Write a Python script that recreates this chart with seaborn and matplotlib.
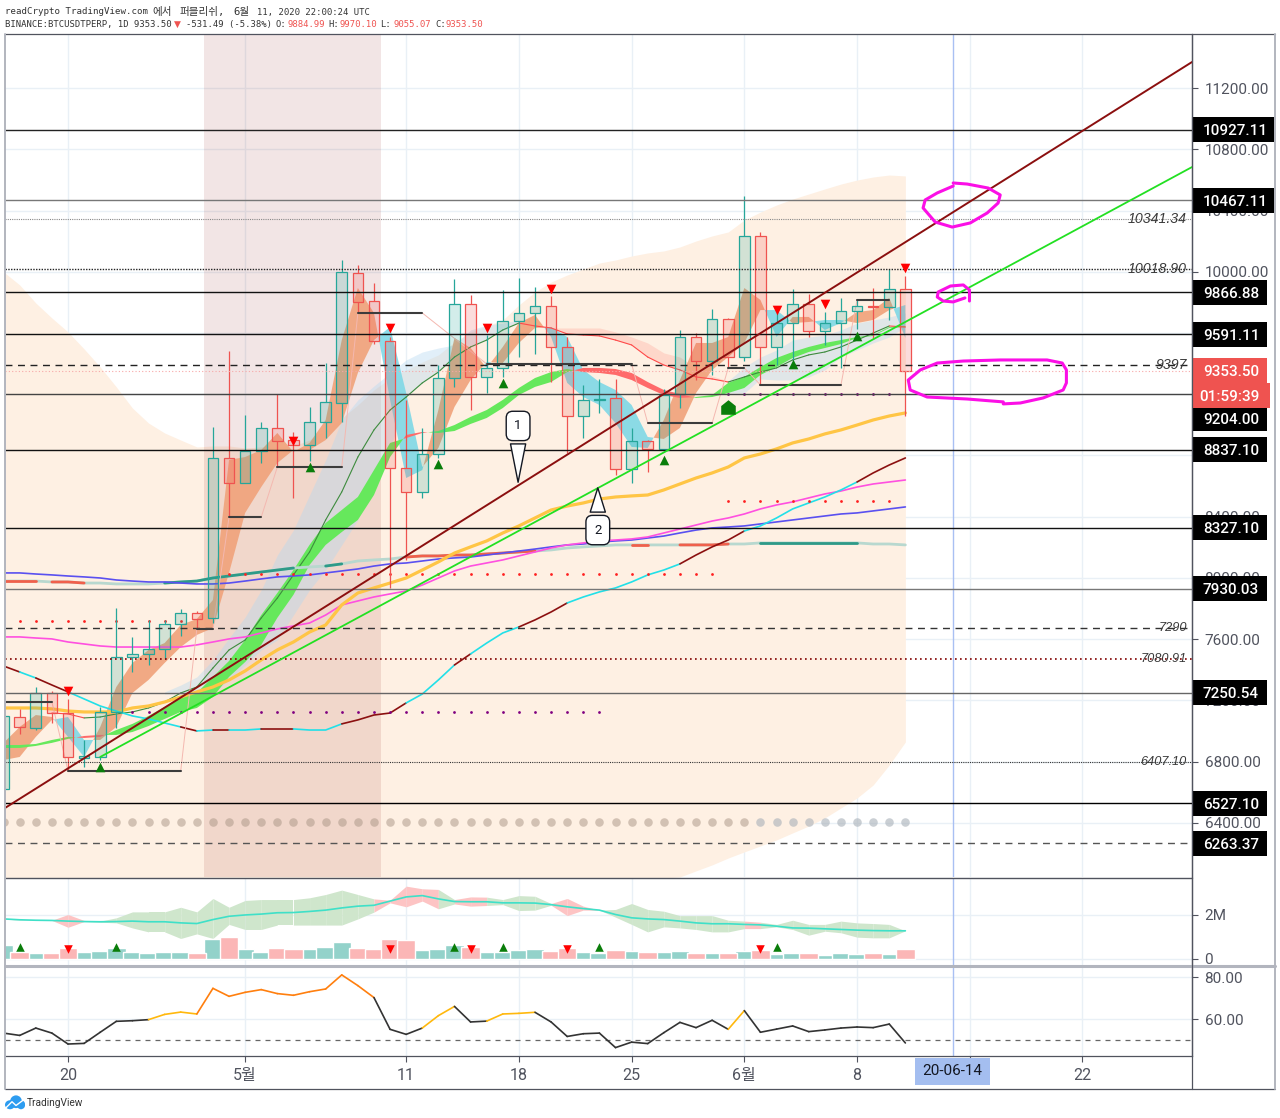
import numpy as np
import matplotlib
matplotlib.use("Agg")
import matplotlib.pyplot as plt
from matplotlib.patches import Rectangle, Ellipse
from matplotlib.markers import MarkerStyle
import seaborn as sns

# daily candles, Apr 16 -> Jun 11 (day 0 = Apr 16)
opens = [6622,7092,7020,7249,7118,6825,6831,7125,7484,7504,7536,7700,7772,7739,8784,8621,8830,8980,8901,8869,9019,9143,9992,9809,9548,8719,8562,8810,9306,9790,9313,9372,9679,9731,9777,9509,9058,9163,9176,8712,8895,8843,9202,9574,9417,9692,9443,10234,9509,9665,9790,9613,9665,9744,9777,9770,9885]
highs = [7099,7145,7288,7262,7210,6942,7158,7804,7615,7726,7726,7798,7785,8986,9483,9065,9019,9202,8954,9117,9404,10077,10044,9927,9574,9163,8980,9391,9953,9848,9587,9881,9959,9901,9842,9574,9261,9300,9300,8980,8901,9234,9620,9600,9757,9698,10495,10260,9763,9888,9855,9737,9829,9816,9894,10018,9970]
lows = [6622,6981,7007,7053,6740,6766,6811,7020,7386,7432,7471,7621,7667,7706,8398,8621,8751,8725,8523,8764,8914,9019,9731,9528,7935,8118,8523,8784,9248,9097,9208,9313,9443,9463,9280,8817,8914,9078,8673,8621,8692,8823,9110,9293,9326,9378,9417,9261,9391,9424,9574,9522,9372,9626,9561,9685,9055]
closes = [7099,7027,7249,7118,6831,6838,7125,7484,7504,7536,7700,7772,7732,8784,8621,8830,8980,8895,8869,9019,9150,9999,9803,9548,8719,8562,8810,9306,9790,9313,9372,9679,9731,9777,9509,9058,9163,9169,8712,8895,8843,9195,9574,9417,9692,9443,10234,9509,9665,9790,9613,9665,9744,9777,9770,9888,9353]

# fast ribbon (orange up, cyan down)
rib1_a = [6923,7027,7105,7092,6962,6831,7027,7288,7445,7530,7575,7693,7732,7856,8771,8790,8836,8947,8823,8882,9032,9554,9894,9731,9163,8653,8705,9097,9568,9502,9372,9509,9665,9718,9574,9274,9182,9130,9012,8856,8849,9032,9293,9535,9535,9574,9894,9816,9574,9705,9705,9620,9665,9737,9750,9829,9568]
rib1_b = [6811,6831,6962,7073,7092,6942,6942,7027,7249,7334,7445,7549,7628,7673,8033,8425,8594,8751,8836,8836,8901,9012,9339,9554,9639,9208,8725,8849,9117,9293,9411,9404,9535,9633,9639,9574,9359,9280,9228,9130,8921,8908,8980,9208,9359,9443,9535,9750,9750,9665,9672,9685,9685,9665,9685,9750,9783]

# middle ribbon (green up, red down)
rib2_a = [6909,6909,6916,6942,6962,6955,6962,7007,7047,7099,7158,7216,7249,7354,7458,7595,7758,7902,8052,8216,8359,8444,8529,8705,8882,8914,8947,8960,8999,9052,9097,9163,9241,9306,9345,9365,9345,9339,9326,9293,9241,9195,9176,9182,9195,9274,9313,9378,9437,9476,9509,9535,9554,9574,9587,9639,9646]
rib2_b = [6890,6890,6903,6923,6949,6968,6975,6975,6994,7033,7079,7125,7151,7223,7354,7451,7563,7740,7890,8085,8216,8300,8379,8542,8790,8934,8954,8947,8960,9006,9045,9110,9195,9248,9280,9345,9372,9372,9365,9339,9280,9228,9202,9176,9182,9208,9241,9326,9378,9437,9476,9502,9528,9568,9581,9633,9639]

# slow ribbon, thin line inside it
thin_days = list(range(3, 57))
thin_line = [7118,7112,7086,7092,7112,7125,7151,7190,7249,7288,7412,7530,7595,7739,7869,8020,8170,8379,8562,8790,8967,9097,9182,9274,9345,9443,9509,9554,9620,9665,9646,9633,9594,9587,9581,9554,9522,9443,9391,9359,9313,9300,9280,9313,9345,9372,9424,9457,9476,9509,9554,9600,9646,9639]
blue1_days = list(range(10, 34))
blue1_hi = [7256,7301,7354,7465,7608,7745,7922,8150,8313,8542,8771,9032,9163,9254,9339,9424,9476,9502,9522,9620,9652,9665,9685,9646]
blue1_lo = [7242,7242,7256,7249,7334,7432,7530,7595,7758,7922,8052,8216,8379,8640,8836,9182,9274,9345,9443,9509,9554,9620,9665,9646]
pink_days = list(range(33, 46))
pink_hi = [9646,9633,9633,9633,9633,9607,9574,9535,9470,9443,9372,9319,9287]
pink_lo = [9646,9633,9594,9587,9581,9554,9522,9443,9391,9359,9313,9300,9280]
blue2_days = list(range(45, 57))
blue2_hi = [9287,9378,9443,9489,9554,9574,9587,9620,9665,9685,9705,9731]
blue2_lo = [9208,9208,9300,9293,9293,9313,9359,9443,9489,9535,9574,9639]

# moving averages
ma_yellow = [7151,7151,7151,7145,7131,7125,7125,7125,7151,7164,7190,7223,7256,7288,7334,7393,7465,7530,7582,7647,7693,7824,7902,7935,7967,8000,8052,8105,8163,8203,8242,8294,8340,8392,8444,8470,8490,8516,8529,8536,8542,8575,8614,8653,8686,8725,8784,8810,8843,8882,8908,8941,8967,8999,9032,9058,9078]
ma_magenta = [7615,7615,7608,7602,7582,7569,7556,7549,7549,7549,7549,7549,7563,7582,7602,7615,7641,7667,7687,7706,7758,7824,7850,7876,7896,7915,7954,8000,8046,8078,8098,8118,8144,8170,8196,8216,8229,8242,8248,8255,8268,8294,8320,8346,8372,8392,8418,8451,8477,8497,8523,8549,8568,8594,8614,8627,8640]
ma_blue = [8033,8033,8026,8020,8013,8007,8000,7987,7980,7974,7974,7967,7961,7961,7967,7980,7994,8007,8013,8020,8033,8046,8059,8078,8092,8098,8111,8124,8131,8137,8150,8163,8176,8189,8203,8216,8222,8235,8242,8248,8261,8274,8294,8313,8327,8333,8340,8353,8366,8379,8392,8405,8418,8425,8438,8451,8464]
ma_long = [7980,7980,7980,7974,7974,7967,7967,7961,7961,7961,7967,7974,7980,8000,8013,8026,8039,8052,8065,8072,8078,8092,8111,8118,8124,8137,8144,8144,8150,8150,8157,8163,8170,8176,8183,8196,8203,8209,8216,8216,8216,8216,8216,8216,8216,8222,8222,8229,8229,8229,8229,8229,8229,8229,8222,8222,8216]
ma_long_red = [(0,2),(3,5),(25,33),(39,40),(42,45)]
ma_long_teal = [(10,18),(20,21),(47,53)]
trend_line = [7425,7386,7347,7301,7256,7210,7164,7131,7099,7079,7053,7027,7001,7007,7007,7007,7014,7014,7014,7007,7007,7047,7073,7105,7118,7184,7242,7334,7432,7504,7575,7641,7680,7726,7778,7837,7876,7909,7935,7974,8020,8052,8092,8150,8203,8248,8307,8340,8392,8451,8490,8529,8575,8627,8686,8738,8784]
trend_breaks = [0,1,2,4,11,12,13,14,16,18,21,25,28,29,32,35,42,46,53,56]

# channel behind everything
peach_hi = [9999,9914,9796,9698,9607,9496,9378,9248,9110,9012,8947,8901,8856,8862,8862,8849,8856,8856,8862,8901,8967,9045,9130,9228,9306,9359,9411,9457,9541,9607,9646,9685,9783,9868,9933,9979,10018,10057,10077,10103,10123,10136,10162,10201,10234,10260,10338,10390,10436,10475,10508,10541,10573,10599,10619,10632,10626]
peach_lo = [6040]*42 + [6047,6087,6126,6171,6211,6250,6289,6335,6380,6433,6498,6563,6648,6779,6929]

# horizontal levels
solid_levels = [10927.11,10467.11,9866.88,9591.11,9204.00,8837.10,8327.10,7930.03,7250.54,6527.10]
solid_colors = ["#222222","#777777","#111111","#111111","#444444","#111111","#111111","#777777","#666666","#000000"]
tag_centers = [10927.11,10467.11,9866.88,9591.11,9039,8837.10,8327.10,7930.03,7250.54,6527.10,6269]
tag_labels = ["10927.11","10467.11","9866.88","9591.11","9204.00","8837.10","8327.10","7930.03","7250.54","6527.10","6263.37"]
tag_widths = [82,82,75,75,75,75,75,75,75,75,75]
text_levels = [10345,10018,9391,7673,7471,6798]
text_labels = ["10341.34","10018.90","9397","7290","7080.91","6407.10"]
text_sizes = [10.2,10.2,10.2,9.2,9.2,9.2]
price_ticks = [6400,6800,7200,7600,8000,8400,8800,9200,9600,10000,10400,10800,11200]
hidden_ticks = [8800,9200,9600]

# pivot stubs
stub_start = [0,4,12,14,17,22,30,40,45,47,53]
stub_end = [3,11,13,16,21,26,39,44,46,52,55]
stub_price = [7190,6740,7667,8398,8725,9731,9398,9012,9372,9261,9816]

# signal markers
sell_days = [4,18,24,30,34,48,51,56]
sell_prices = [7262,8895,9633,9633,9888,9750,9790,10025]
buy_days = [6,19,27,31,41,49,53]
buy_prices = [6766,8725,8745,9275,8770,9398,9580]
vol_buy_days = [1,7,28,31,37,48]
vol_sell_days = [4,24,29,35,47]

# volume panel, millions
volume = [.61,.30,.23,.23,.48,.30,.33,.48,.30,.27,.30,.30,.23,.88,.97,.45,.30,.48,.45,.45,.51,.77,.48,.45,.88,.83,.38,.42,.62,.51,.30,.30,.38,.42,.33,.48,.30,.26,.38,.33,.30,.30,.33,.27,.27,.24,.33,.38,.21,.27,.27,.15,.27,.20,.24,.20,.42]
vol_ma = [1.80,1.76,1.74,1.73,1.70,1.68,1.67,1.68,1.70,1.67,1.67,1.62,1.59,1.77,1.92,1.98,2.02,2.08,2.09,2.14,2.20,2.30,2.38,2.42,2.61,2.80,2.86,2.71,2.59,2.58,2.58,2.53,2.53,2.52,2.45,2.35,2.27,2.20,2.00,1.85,1.80,1.77,1.70,1.62,1.58,1.58,1.55,1.53,1.47,1.39,1.38,1.35,1.32,1.29,1.27,1.26,1.26]
vol_hi = [1.80,1.76,1.74,1.74,2.00,1.73,1.70,1.85,2.12,2.12,2.12,2.33,2.12,2.73,2.33,2.64,2.68,2.68,2.68,2.76,2.91,3.11,2.91,2.71,2.65,3.29,3.17,3.14,2.68,2.80,2.79,2.68,2.86,2.83,2.50,2.73,2.38,2.20,2.23,2.50,2.23,2.15,1.95,1.95,1.95,1.74,1.70,1.65,1.55,1.74,1.55,1.55,1.70,1.62,1.59,1.55,1.26]
vol_lo = [1.80,1.74,1.73,1.73,1.42,1.68,1.65,1.62,1.39,1.21,1.21,0.91,1.12,0.91,1.55,1.32,1.32,1.52,1.52,1.52,1.52,1.52,1.80,2.11,2.53,2.35,2.61,2.26,2.48,2.38,2.41,2.45,2.18,2.20,2.42,1.95,2.20,2.20,1.88,1.55,1.21,1.44,1.39,1.32,1.21,1.21,1.36,1.36,1.44,1.32,1.06,1.24,1.17,0.97,0.94,0.94,1.26]
vol_red_segments = [3,4,23,24,25,26,28,29,34,35,36,46]

# oscillator
osc = [53.3,52.2,55.7,53.3,48.1,48.4,53.7,58.9,59.2,59.7,62.2,63.3,62.4,74.6,70.8,72.7,74.0,72.1,71.3,73.0,74.3,81.0,75.9,70.2,55.1,52.7,55.7,61.6,66.0,58.6,59.0,62.4,62.7,63.2,58.6,51.7,53.0,53.3,46.4,49.0,48.3,53.5,58.4,55.9,59.4,55.1,64.0,53.7,55.2,56.7,54.0,54.8,55.7,56.2,55.9,57.6,48.6]

# time axis
time_ticks = [4,15,25,32,39,46,53,60,67]
time_labels = ["20","5월","11","18","25","6월","8","","22"]

# hand drawn circles
scrib_a_x = [58.97,59.84,61.14,61.89,61.76,61.08,60.03,58.91,57.85,57.1,57.23,57.98,58.97]
scrib_a_y = [10580,10573,10547,10502,10449,10384,10319,10292,10325,10417,10469,10515,10560]
scrib_b_x = [59.98,59.98,59.6,58.8,58.04,57.98,58.35,58.97,59.7]
scrib_b_y = [9809,9881,9914,9907,9868,9835,9809,9803,9829]
scrib_c_x = [62.08,63.14,64.56,65.8,66,66,65.74,64.8,61.9,59.6,57.98,56.93,56.18,56.3,57.35,59.84,62.08]
scrib_c_y = [9137,9143,9176,9228,9274,9359,9404,9424,9424,9417,9404,9359,9293,9228,9182,9169,9150]

days = np.arange(57)
TEAL, RED = "#26a69a", "#ef5350"
XLIM = (0.087, 73.8)

sns.set_theme(style="white")
plt.rcParams["font.family"] = ["Roboto", "Noto Sans CJK KR", "DejaVu Sans"]
plt.rcParams["axes.linewidth"] = 0.9


def fx(x):
    return x / 1280


def fy(y):
    return 1 - y / 1118


def panel(top, bottom):
    return fig.add_axes([fx(5), fy(bottom), 1187 / 1280, (bottom - top) / 1118])


def line(ax, x, y, **kw):
    sns.lineplot(x=list(x), y=list(y), ax=ax, sort=False, estimator=None, errorbar=None, legend=False, **kw)


def dots(ax, x, y, **kw):
    sns.scatterplot(x=list(x), y=list(y), ax=ax, legend=False, linewidth=0, **kw)


fig = plt.figure(figsize=(12.8, 11.18), dpi=100)
ax = panel(34, 877)
ax_vol = panel(878, 965)
ax_osc = panel(967, 1056)

for a in (ax, ax_vol, ax_osc):
    a.set_axisbelow(True)
    a.set_xticks(time_ticks)
    a.grid(True, color="#e9f0f6", lw=1)
    a.yaxis.tick_right()
    for s in ("left", "top", "bottom"):
        a.spines[s].set_visible(False)
    a.spines["right"].set_color("#50535e")
    a.axvline(58.94, color="#a9c0f3", lw=1, zorder=1)

# channel and session shading
ax.fill_between(days, peach_lo, peach_hi, color="#fef0e3", lw=0, zorder=1)
ax.axvspan(12.45, 23.44, color="#800000", alpha=0.1, lw=0, zorder=1.2)

# ribbons
ra, rb = np.array(rib1_a), np.array(rib1_b)
ax.fill_between(blue1_days, blue1_lo, blue1_hi, color="#b4d9f2", alpha=0.4, lw=0, zorder=1.5)
ax.fill_between(blue2_days, blue2_lo, blue2_hi, color="#b4d9f2", alpha=0.4, lw=0, zorder=1.5)
ax.fill_between(pink_days, pink_lo, pink_hi, color="#ff8f80", alpha=0.25, lw=0, zorder=1.5)
ax.fill_between(days, ra, rb, where=ra >= rb, interpolate=True, color="#f0a27a", alpha=0.9, lw=0, zorder=2)
ax.fill_between(days, ra, rb, where=ra <= rb, interpolate=True, color="#7fd8e6", alpha=0.9, lw=0, zorder=2)
ga, gb = np.array(rib2_a), np.array(rib2_b)
ax.fill_between(days, ga, gb, where=ga >= gb, interpolate=True, color="#66e85c", lw=0, zorder=2.1)
ax.fill_between(days, ga, gb, where=ga <= gb, interpolate=True, color="#ff6a6a", lw=0, zorder=2.1)

# thin line, green rising and red falling
for i in range(len(thin_days) - 1):
    up = thin_line[i + 1] >= thin_line[i]
    line(ax, thin_days[i:i + 2], thin_line[i:i + 2], color="#3d8b3d" if up else "#ff4a4a", linewidth=0.8, zorder=2.5)

# moving averages
line(ax, days, ma_long, color="#b8d8cf", linewidth=2, zorder=2.6)
for s, e in ma_long_red:
    line(ax, days[s:e + 1], ma_long[s:e + 1], color="#f0604c", linewidth=2, zorder=2.7)
for s, e in ma_long_teal:
    line(ax, days[s:e + 1], ma_long[s:e + 1], color="#2e9a88", linewidth=2, zorder=2.7)
line(ax, days, ma_blue, color="#5a50f0", linewidth=1.2, zorder=2.8)
line(ax, days, ma_magenta, color="#ff50e0", linewidth=1.2, zorder=2.8)
line(ax, days, ma_yellow, color="#ffc545", linewidth=2.3, zorder=2.8)
for k in range(len(trend_breaks) - 1):
    s, e = trend_breaks[k], trend_breaks[k + 1]
    line(ax, days[s:e + 1], trend_line[s:e + 1], color="#8b1010" if k % 2 == 0 else "#22e0e8", linewidth=1.2, zorder=2.9)

# small dot rows
dots(ax, range(1, 12), [7719] * 11, color="#ff2020", s=4, marker="o", zorder=3)
dots(ax, range(14, 45), [8026] * 31, color="#ff2020", s=4, marker="o", zorder=3)
dots(ax, range(45, 56), [8503] * 11, color="#ff2020", s=4, marker="o", zorder=3)
dots(ax, range(8, 38), [7125] * 30, color="#800080", s=4, marker="o", zorder=3)
dots(ax, range(45, 56), [9202] * 11, color="#800080", s=4, marker="o", zorder=3)
dots(ax, days[:47], [6407] * 47, color="#a89484", alpha=0.5, s=38, zorder=3)
dots(ax, days[47:], [6407] * 10, color="#a8b0b8", alpha=0.6, s=38, zorder=3)

# candles
for i in days:
    col = TEAL if closes[i] >= opens[i] else RED
    top, bot = max(opens[i], closes[i]), min(opens[i], closes[i])
    ax.vlines(i, top, highs[i], color=col, lw=0.9, zorder=4)
    ax.vlines(i, lows[i], bot, color=col, lw=0.9, zorder=4)
    ax.bar(i, max(top - bot, 8), bottom=bot, width=0.66, facecolor=matplotlib.colors.to_rgba(col, 0.2),
           edgecolor=col, linewidth=0.9, zorder=4)

# price levels
ax.hlines(solid_levels, *XLIM, colors=solid_colors, lw=1, zorder=5)
ax.hlines(9391, *XLIM, colors="#222222", lw=1, linestyles=(0, (5, 4)), zorder=5)
ax.hlines(7673, *XLIM, colors="#333333", lw=1, linestyles=(0, (5, 4)), zorder=5)
ax.hlines(6269, *XLIM, colors="#555555", lw=1, linestyles=(0, (5, 4)), zorder=5)
ax.hlines(10345, *XLIM, colors="#888888", lw=0.8, linestyles=(0, (1, 1)), zorder=5)
ax.hlines(10018, *XLIM, colors="#222222", lw=1, linestyles=(0, (1, 1)), zorder=5)
ax.hlines(7471, *XLIM, colors="#800000", lw=1.2, linestyles=(0, (1, 2)), zorder=5)
ax.hlines(6798, *XLIM, colors="#333333", lw=0.8, linestyles=(0, (1, 1)), zorder=5)
ax.hlines(9353.5, *XLIM, colors="#f8a8a8", lw=0.8, linestyles=(0, (1, 2)), zorder=5)

# pivot stubs and their faint connectors
for k in range(len(stub_start)):
    line(ax, [stub_start[k], stub_end[k]], [stub_price[k]] * 2, color="#3c3c3c", linewidth=1.5, zorder=5.2)
    if k + 1 < len(stub_start):
        line(ax, [stub_end[k], stub_start[k + 1]], [stub_price[k], stub_price[k + 1]],
             color="#f4b8b0", linewidth=0.7, zorder=3.5)

# trend lines
line(ax, [0, 73.8], [6492, 11370], color="#8b0f0f", linewidth=1.4, zorder=6)
line(ax, [6, 73.8], [6831, 10684], color="#22e022", linewidth=1.3, zorder=6)

# signals
dots(ax, sell_days, sell_prices, color="#ff0000", marker="v", s=48, zorder=6.5)
dots(ax, buy_days, buy_prices, color="#0a7d0a", marker="^", s=48, zorder=6.5)
house = MarkerStyle([(-1, -1), (1, -1), (1, 0.2), (0, 1), (-1, 0.2)])
ax.scatter([45], [9118], color="#0a7d0a", marker=house, s=110, lw=0, zorder=6.5)

# numbered callouts
for label, cx, cy, ty in [("1", 31.95, 8993, 8607), ("2", 36.9, 8313, 8607)]:
    ax.annotate(label, xy=(cx, ty), xytext=(cx, cy), ha="center", va="center", fontsize=9.5, color="#131722",
                bbox=dict(boxstyle="round,pad=0.62,rounding_size=0.5", fc="white", ec="#131722", lw=1),
                arrowprops=dict(arrowstyle="wedge,tail_width=1.15,shrink_factor=0.5", fc="white", ec="#131722", lw=1),
                zorder=7)

# hand drawn circles
for sx, sy in [(scrib_a_x, scrib_a_y), (scrib_b_x, scrib_b_y), (scrib_c_x, scrib_c_y)]:
    line(ax, sx, sy, color="#fb0fe6", linewidth=2.2, zorder=7.5)

# labels on levels
for lev, lab, sz in zip(text_levels, text_labels, text_sizes):
    ax.text(1182 / 1187, lev, lab, transform=ax.get_yaxis_transform(), ha="right", va="center", style="italic",
            fontsize=sz, color="#3a3a3a", family="Liberation Sans", zorder=8)

ax.set_xlim(*XLIM)
ax.set_ylim(6047, 11553)
ax.set_yticks(price_ticks)
ax.set_yticklabels(["" if p in hidden_ticks else "%.2f" % p for p in price_ticks])
ax.set_xticklabels([])
ax.tick_params(axis="y", length=4, width=0.8, color="#50535e", labelcolor="#50535e", labelsize=11, pad=5, right=True)
ax.tick_params(axis="x", length=0)

# price tags over the axis
px_price = 5506 / 843
for c, lab, w in zip(tag_centers, tag_labels, tag_widths):
    ax.add_patch(Rectangle((1, c - 12.5 * px_price), w / 1187, 25 * px_price, transform=ax.get_yaxis_transform(),
                           fc="#000000", ec="none", clip_on=False, zorder=9))
    ax.text(1 + 11 / 1187, c, lab, transform=ax.get_yaxis_transform(), color="white", fontsize=11, fontweight="medium",
            va="center_baseline", ha="left", zorder=10)
for c, lab, w in [(9353.5, "9353.50", 75), (9192, "01:59:39", 77)]:
    x0 = 1 + (1 if w == 77 else 0) / 1187
    ax.add_patch(Rectangle((x0, c - 12.5 * px_price), w / 1187, 25 * px_price, transform=ax.get_yaxis_transform(),
                           fc=RED, ec="none", clip_on=False, zorder=11))
    ax.text(1 + (11 if w == 75 else 7) / 1187, c, lab, transform=ax.get_yaxis_transform(), color="white", fontsize=11,
            fontweight="medium", va="center_baseline", ha="left", zorder=12)

# volume panel
for i in range(56):
    ax_vol.fill_between([i, i + 1], vol_lo[i:i + 2], vol_hi[i:i + 2], lw=0, zorder=1.5,
                        color="#fdc4c4" if i in vol_red_segments else "#cfe6cc")
line(ax_vol, days, vol_ma, color="#3fe0c8", linewidth=1.2, zorder=3)
vol_dir = ["up" if c >= o else "down" for o, c in zip(opens, closes)]
sns.barplot(x=days, y=volume, hue=vol_dir, palette={"up": "#93d2ca", "down": "#fbb6b6"}, native_scale=True,
            dodge=False, width=1.15, saturation=1, legend=False, ax=ax_vol, zorder=2)
dots(ax_vol, vol_buy_days, [0.52] * 6, color="#0a7d0a", marker="^", s=38, zorder=4)
dots(ax_vol, vol_sell_days, [0.44] * 5, color="#ff0000", marker="v", s=38, zorder=4)
ax_vol.set_xlim(*XLIM)
ax_vol.set_ylim(-0.295, 3.66)
ax_vol.set_yticks([0, 2])
ax_vol.set_yticklabels(["0", "2M"])
ax_vol.set_xticklabels([])
ax_vol.set_xlabel("")
ax_vol.tick_params(axis="y", length=4, width=0.8, color="#50535e", labelcolor="#50535e", labelsize=11, pad=5, right=True)
ax_vol.tick_params(axis="x", length=0)

# oscillator panel
for i in range(56):
    end = osc[i + 1]
    col = "#ff7f0e" if end >= 70 else ("#ffb80d" if end >= 60 else "#333333")
    line(ax_osc, days[i:i + 2], osc[i:i + 2], color=col, linewidth=1.2, zorder=3)
ax_osc.axhline(50, color="#666666", lw=0.9, ls=(0, (4, 4)), zorder=2)
ax_osc.set_xlim(*XLIM)
ax_osc.set_ylim(42.4, 84.76)
ax_osc.set_yticks([60, 80])
ax_osc.set_yticklabels(["60.00", "80.00"])
ax_osc.set_xticklabels(time_labels)
ax_osc.tick_params(axis="y", length=4, width=0.8, color="#50535e", labelcolor="#50535e", labelsize=11, pad=5, right=True)
ax_osc.tick_params(axis="x", length=4, width=0.8, color="#50535e", labelcolor="#50535e", labelsize=11.5, pad=4.5, bottom=True)
ax_osc.spines["bottom"].set_visible(True)
ax_osc.spines["bottom"].set_color("#50535e")

# crosshair date
fig.add_artist(Rectangle((fx(915), fy(1085)), 75 / 1280, 27 / 1118, transform=fig.transFigure, fc="#a4bef0", ec="none", zorder=5))
fig.text(fx(952.5), fy(1071), "20-06-14", ha="center", va="center", fontsize=11, color="#131722", zorder=6)

# panel borders
fig.add_artist(plt.Line2D([fx(5), fx(1192)], [fy(877.5)] * 2, color="#50535e", lw=1, zorder=5))
fig.add_artist(plt.Line2D([fx(5), fx(1275)], [fy(966)] * 2, color="#b2b5be", lw=2.2, zorder=5))
fig.add_artist(plt.Line2D([fx(1192), fx(1192)], [fy(34), fy(1089)], color="#50535e", lw=0.9, zorder=5))
fig.add_artist(plt.Line2D([fx(5), fx(1275)], [fy(34)] * 2, color="#50535e", lw=0.9, zorder=5))
fig.add_artist(plt.Line2D([fx(5), fx(1275)], [fy(1089)] * 2, color="#50535e", lw=0.9, zorder=5))
fig.add_artist(plt.Line2D([fx(5), fx(5)], [fy(34), fy(1089)], color="#b2b5be", lw=1.4, zorder=5))
fig.add_artist(plt.Line2D([fx(1275), fx(1275)], [fy(34), fy(1089)], color="#b2b5be", lw=1.4, zorder=5))

# header, placed piece by piece because hangul runs wider here
mono = ["DejaVu Sans Mono", "Noto Sans CJK KR"]
header_top = [(5, "readCrypto TradingView.com", 6.6), (152, "에서", 7.6), (180, "퍼블리쉬,", 7.6), (233, "6월", 7.6),
              (257, "11, 2020 22:00:24 UTC", 6.4)]
for hx, txt, sz in header_top:
    fig.text(fx(hx), fy(12), txt, fontsize=sz, family=mono, color="#333333", va="center")
header_row = [(5, "BINANCE:BTCUSDTPERP, 1D 9353.50", "#333333"), (186, "-531.49 (-5.38%)", "#333333"),
              (276, "O:", "#333333"), (287, "9884.99", RED), (328, "H:", "#333333"), (340, "9970.10", RED),
              (380, "L:", "#333333"), (393, "9055.07", RED), (435, "C:", "#333333"), (446, "9353.50", RED)]
for hx, txt, col in header_row:
    fig.text(fx(hx), fy(24.5), txt, fontsize=6.4, family=mono, color=col, va="center")
fig.text(fx(174), fy(24), "▼", fontsize=6.5, color=RED, va="center", family="DejaVu Sans")

# footer logo
logo = fig.add_axes([fx(5), fy(1110), 20 / 1280, 15 / 1118])
logo.axis("off")
logo.set_xlim(0, 1)
logo.set_ylim(0, 1)
for ex, ey, ew, eh in [(0.25, 0.35, 0.5, 0.6), (0.55, 0.55, 0.6, 0.85), (0.8, 0.35, 0.42, 0.6)]:
    logo.add_patch(Ellipse((ex, ey), ew, eh, fc="#2d9cf0", ec="none"))
logo.plot([0.05, 0.35, 0.55, 0.95], [0.15, 0.55, 0.3, 0.7], color="white", lw=1)
fig.text(fx(27), fy(1103.5), "TradingView", fontsize=7.3, color="#333333", va="center")

fig.savefig("out.png", dpi=100)
